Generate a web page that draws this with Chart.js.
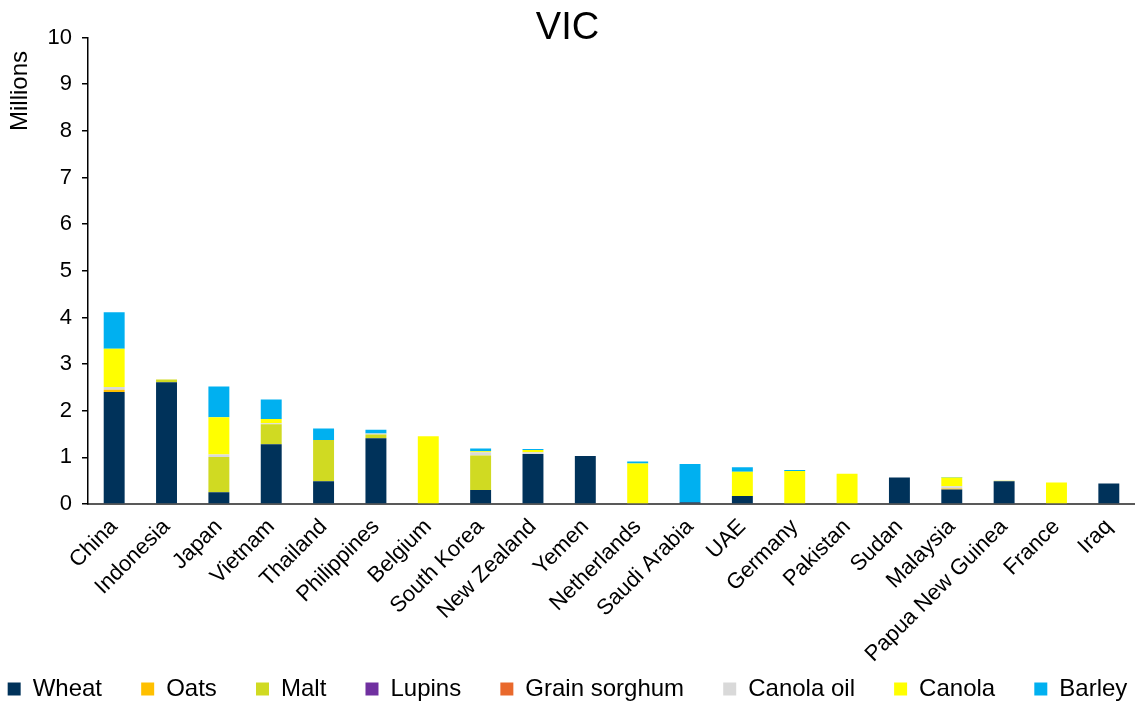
<!DOCTYPE html>
<html>
<head>
<meta charset="utf-8">
<script src="https://cdn.jsdelivr.net/npm/chart.js@4/dist/chart.umd.min.js"></script>
<style>
  html, body { margin: 0; padding: 0; background: #fff; }
  #wrap { width: 1135px; height: 701px; }
</style>
</head>
<body>
<div id="wrap"><canvas id="chart"></canvas></div>
<script>
// destinations (in order shown)
var countries = ['China', 'Indonesia', 'Japan', 'Vietnam', 'Thailand', 'Philippines', 'Belgium',
  'South Korea', 'New Zealand', 'Yemen', 'Netherlands', 'Saudi Arabia', 'UAE', 'Germany',
  'Pakistan', 'Sudan', 'Malaysia', 'Papua New Guinea', 'France', 'Iraq'];

// values in millions
var wheat        = [2.40, 2.61, 0.25, 1.28, 0.49, 1.41, 0, 0.30, 1.07, 1.03, 0, 0.04, 0.17, 0, 0, 0.57, 0.31, 0.49, 0, 0.44];
var oats         = [0.05, 0, 0, 0, 0, 0, 0, 0, 0, 0, 0, 0, 0, 0, 0, 0, 0.02, 0, 0, 0];
var malt         = [0, 0.06, 0.76, 0.43, 0.88, 0.08, 0, 0.74, 0, 0, 0, 0, 0, 0, 0, 0, 0, 0.01, 0, 0];
var lupins       = [0, 0, 0, 0, 0, 0, 0, 0, 0, 0, 0, 0, 0, 0, 0, 0, 0, 0, 0, 0];
var grainSorghum = [0, 0, 0, 0, 0, 0, 0, 0, 0, 0, 0, 0, 0, 0, 0, 0, 0, 0, 0, 0];
var canolaOil    = [0.06, 0, 0.05, 0.02, 0, 0.02, 0, 0.07, 0.04, 0, 0, 0, 0, 0, 0, 0, 0.05, 0, 0, 0];
var canola       = [0.82, 0, 0.80, 0.09, 0, 0, 1.45, 0.02, 0.05, 0, 0.87, 0, 0.52, 0.71, 0.65, 0, 0.19, 0, 0.46, 0];
var barley       = [0.78, 0, 0.66, 0.42, 0.25, 0.08, 0, 0.06, 0.02, 0, 0.04, 0.82, 0.10, 0.02, 0, 0, 0.01, 0, 0, 0];

var yTicks = [0, 1, 2, 3, 4, 5, 6, 7, 8, 9, 10];

function ds(label, data, color) {
  return {
    label: label,
    data: data,
    backgroundColor: color,
    borderWidth: 0,
    categoryPercentage: 0.8,
    barPercentage: 0.5
  };
}

// let the rotated x labels run down into the legend strip (no clipping)
var unclipLabels = {
  id: 'unclipLabels',
  afterLayout: function (c) { c.scales.x.bottom = c.height; }
};

var ctx = document.getElementById('chart').getContext('2d');
var chart = new Chart(ctx, {
  type: 'bar',
  data: {
    labels: countries,
    datasets: [
      ds('Wheat', wheat, '#00325A'),
      ds('Oats', oats, '#FFC000'),
      ds('Malt', malt, '#D0DA22'),
      ds('Lupins', lupins, '#7030A0'),
      ds('Grain sorghum', grainSorghum, '#E9692C'),
      ds('Canola oil', canolaOil, '#D9D9D9'),
      ds('Canola', canola, '#FFFF00'),
      ds('Barley', barley, '#00B0F0')
    ]
  },
  plugins: [unclipLabels],
  options: {
    responsive: true,
    maintainAspectRatio: false,
    animation: false,
    layout: { padding: { left: 0, right: 0, top: 0, bottom: -10 } },
    plugins: {
      tooltip: { enabled: false },
      title: {
        display: true,
        text: 'VIC',
        color: '#000',
        font: { family: 'Liberation Sans, Arial', size: 38, weight: 'normal' },
        padding: { top: 6, bottom: -14 }
      },
      legend: {
        position: 'bottom',
        labels: {
          color: '#000',
          font: { family: 'Liberation Sans, Arial', size: 24 },
          boxWidth: 13,
          boxHeight: 13,
          padding: 1,
          generateLabels: function (c) {
            var items = Chart.defaults.plugins.legend.labels.generateLabels(c);
            items.forEach(function (it, i) {
              if (i < items.length - 1) it.text = it.text + '     \u2009';
            });
            return items;
          }
        }
      }
    },
    scales: {
      x: {
        stacked: true,
        grid: { display: false },
        border: { display: true, color: '#595959', width: 2 },
        ticks: {
          color: '#000',
          font: { family: 'Liberation Sans, Arial', size: 22 },
          maxRotation: 45,
          minRotation: 45,
          autoSkip: false,
          padding: 2
        },
        afterFit: function (axis) { axis.height = 172; }
      },
      y: {
        stacked: true,
        min: 0,
        max: 10,
        afterBuildTicks: function (axis) {
          axis.ticks = yTicks.map(function (v) { return { value: v }; });
        },
        grid: {
          display: true,
          drawOnChartArea: false,
          drawTicks: true,
          tickLength: 6,
          color: '#000',
          lineWidth: 1.5
        },
        border: { display: true, color: '#000', width: 1.5 },
        ticks: {
          color: '#000',
          font: { family: 'Liberation Sans, Arial', size: 22 },
          padding: 10
        },
        title: {
          display: true,
          text: 'Millions  ',
          align: 'end',
          color: '#000',
          font: { family: 'Liberation Sans, Arial', size: 24 },
          padding: { top: 6, bottom: 0 }
        },
        afterFit: function (axis) { axis.width = 88; }
      }
    }
  }
});
</script>
</body>
</html>
